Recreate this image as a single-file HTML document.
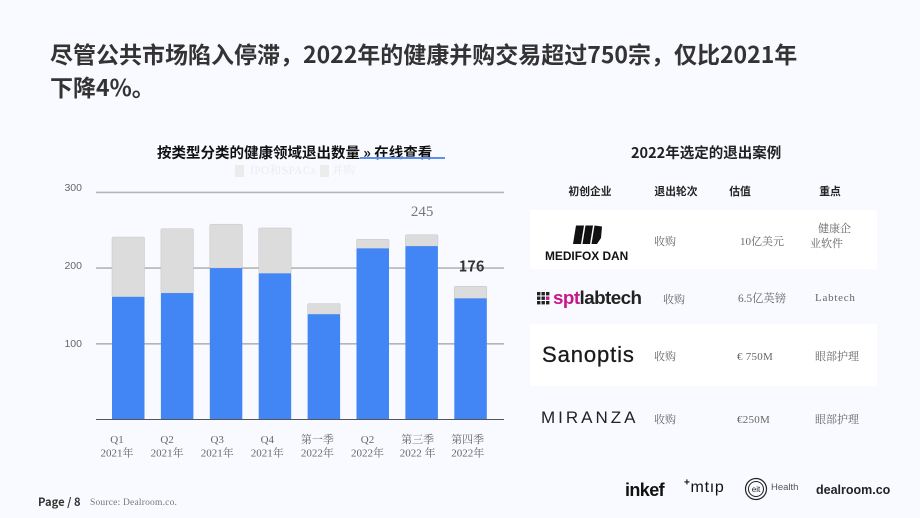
<!DOCTYPE html>
<html lang="zh">
<head>
<meta charset="utf-8">
<title>健康并购</title>
<style>
html,body{margin:0;padding:0;}
body{width:920px;height:518px;background:#f9faff;position:relative;overflow:hidden;font-family:"Noto Sans CJK SC",sans-serif;}
.t{position:absolute;white-space:nowrap;}
.serif{font-family:"Liberation Serif","Noto Serif CJK SC",serif;font-size:11px;color:#666;}
.hd{font-family:"Noto Sans CJK SC",sans-serif;font-weight:700;font-size:10.8px;color:#222;transform:translateX(-50%);}
.row{position:absolute;left:530px;width:347px;background:#fff;}
svg{position:absolute;left:0;top:0;}
</style>
</head>
<body>
<div class="t" style="left:50px;top:37px;font-size:23px;font-weight:700;color:#333;line-height:33px;">尽管公共市场陷入停滞，2022年的健康并购交易超过750宗，仅比2021年<br>下降4%。</div>

<div class="t" style="left:157px;top:143px;font-size:14.5px;font-weight:700;color:#111;line-height:20px;">按类型分类的健康领域退出数量 » 在线查看</div>
<div class="t" style="left:360px;top:157px;width:85px;height:1.5px;background:#5b8ff0;"></div>

<svg id="chart" width="920" height="518" xmlns="http://www.w3.org/2000/svg"></svg>

<div class="t" style="left:235px;top:165px;width:9px;height:12px;background:#ececec;"></div>
<div class="t" style="left:250px;top:164px;font-family:'Liberation Serif','Noto Serif CJK SC',serif;font-size:11.5px;letter-spacing:.4px;line-height:14px;color:#ebebeb;">IPO和SPACs</div>
<div class="t" style="left:320px;top:165px;width:9px;height:12px;background:#ececec;"></div>
<div class="t" style="left:332px;top:164px;font-family:'Liberation Serif','Noto Serif CJK SC',serif;font-size:11.5px;line-height:14px;color:#ebebeb;">并购</div>

<div class="t" style="left:631px;top:143px;font-size:14.5px;font-weight:700;color:#222;line-height:20px;">2022年选定的退出案例</div>
<div class="t hd" style="left:590px;top:183px;">初创企业</div>
<div class="t hd" style="left:676px;top:183px;">退出轮次</div>
<div class="t hd" style="left:740px;top:183px;">估值</div>
<div class="t hd" style="left:830px;top:183px;">重点</div>

<div class="row" style="top:210px;height:59px;"></div>
<div class="row" style="top:324px;height:62px;"></div>

<!-- Medifox logo -->
<svg width="920" height="518" xmlns="http://www.w3.org/2000/svg">
  <polygon points="576,225.5 584,225.5 581,244 573,244" fill="#111"/>
  <polygon points="585.5,225.5 593,225.5 590,244 582.5,244" fill="#111"/>
  <polygon points="594.5,225.5 602,226.5 601,238 597,244 591.5,244" fill="#111"/>
</svg>
<div class="t" style="left:545px;top:249px;font-family:'Liberation Sans',sans-serif;font-weight:700;font-size:11.9px;line-height:14px;color:#111;">MEDIFOX DAN</div>
<div class="t serif" style="left:654px;top:233px;">收购</div>
<div class="t serif" style="left:740px;top:233px;">10亿美元</div>
<div class="t serif" style="left:818px;top:220px;">健康企</div>
<div class="t serif" style="left:810px;top:235px;">业软件</div>

<!-- SPT logo -->
<svg width="920" height="518" xmlns="http://www.w3.org/2000/svg">
  <g fill="#222">
    <rect x="537" y="292" width="3.4" height="3.4"/><rect x="541.5" y="292" width="3.4" height="3.4"/><rect x="546" y="292" width="3.4" height="3.4"/>
    <rect x="537" y="296.5" width="3.4" height="3.4"/><rect x="541.5" y="296.5" width="3.4" height="3.4"/><rect x="546" y="296.5" width="3.4" height="3.4" fill="#c8178b"/>
    <rect x="537" y="301" width="3.4" height="3.4"/><rect x="541.5" y="301" width="3.4" height="3.4"/><rect x="546" y="301" width="3.4" height="3.4"/>
  </g>
</svg>
<div class="t" style="left:553px;top:288px;font-family:'Liberation Sans',sans-serif;font-weight:700;font-size:18.8px;letter-spacing:-0.55px;line-height:20px;color:#222;"><span style="color:#c8178b">spt</span>labtech</div>
<div class="t serif" style="left:663px;top:291px;">收购</div>
<div class="t serif" style="left:738px;top:290px;font-size:11.3px;">6.5亿英镑</div>
<div class="t serif" style="left:815px;top:292px;letter-spacing:.75px;">Labtech</div>

<!-- Sanoptis -->
<div class="t" style="left:542px;top:342px;font-family:'Liberation Sans',sans-serif;font-size:22px;letter-spacing:.9px;line-height:26px;color:#1a1a1a;-webkit-text-stroke:.3px #1a1a1a;">Sanoptis</div>
<div class="t serif" style="left:654px;top:348px;">收购</div>
<div class="t serif" style="left:737px;top:351px;letter-spacing:.25px;">€ 750M</div>
<div class="t serif" style="left:815px;top:348px;">眼部护理</div>

<!-- Miranza -->
<div class="t" style="left:541px;top:408px;font-family:'Liberation Sans',sans-serif;font-size:17px;letter-spacing:3px;line-height:20px;color:#222;">MIRANZA</div>
<div class="t serif" style="left:654px;top:411px;">收购</div>
<div class="t serif" style="left:737px;top:414px;letter-spacing:.25px;">€250M</div>
<div class="t serif" style="left:815px;top:411px;">眼部护理</div>

<!-- footer -->
<div class="t" style="left:38px;top:494px;font-size:11.2px;font-weight:700;line-height:16px;color:#333;">Page / 8</div>
<div class="t" style="left:90px;top:497px;font-family:'Liberation Serif',serif;font-size:9.5px;line-height:12px;color:#777;letter-spacing:.2px;">Source: Dealroom.co.</div>

<div class="t" style="left:625px;top:480px;font-family:'Liberation Sans',sans-serif;font-weight:700;font-size:18px;letter-spacing:-.6px;line-height:20px;color:#111;">inkef</div>
<div class="t" style="left:684px;top:478px;font-family:'Liberation Sans',sans-serif;font-size:16px;letter-spacing:.7px;line-height:20px;color:#111;"><sup style="font-size:10px;font-weight:700;line-height:0;">+</sup>mtıp</div>
<svg width="920" height="518" xmlns="http://www.w3.org/2000/svg">
  <circle cx="756" cy="489" r="10.5" fill="none" stroke="#222" stroke-width="1.2"/>
  <circle cx="756" cy="489" r="7.5" fill="none" stroke="#222" stroke-width="1"/>
  <text x="756" y="492" font-family="Liberation Sans, sans-serif" font-size="8" text-anchor="middle" fill="#222">eit</text>
</svg>
<div class="t" style="left:771px;top:483px;font-family:'Liberation Sans',sans-serif;font-size:9.5px;line-height:10px;color:#555;">Health</div>
<div class="t" style="left:816px;top:481px;font-family:'Liberation Sans',sans-serif;font-weight:700;font-size:12.5px;line-height:18px;color:#222;">dealroom.co</div>

<script>
var categoriesTop = ['Q1','Q2','Q3','Q4','第一季','Q2','第三季','第四季'];
var categoriesBottom = ['2021年','2021年','2021年','2021年','2022年','2022年','2022 年','2022年'];
var maValues = [162,167,200,193,139,226,229,160];
var ipoValues = [79,85,58,60,14,12,15,16];
var yTicks = [100,200,300];
var totalLabels = [{index:6,text:'245',bold:false},{index:7,text:'176',bold:true}];

var NS = 'http://www.w3.org/2000/svg';
var svg = document.getElementById('chart');
function yScale(v){ return 419.5 - v * 0.757; }
function yTickLabel(v){ return 191 + (300 - v) * 0.78; }
function xBar(i){ return 112 + i * 48.9; }
function xLabel(i){ return 117 + i * 50.1; }
var BAR_W = 32.5;

function add(tag, attrs, text){
  var el = document.createElementNS(NS, tag);
  for (var k in attrs) el.setAttribute(k, attrs[k]);
  if (text !== undefined) el.textContent = text;
  svg.appendChild(el);
  return el;
}

yTicks.forEach(function(t){
  var line = add('line', {x1:96, x2:504, y1:yScale(t), y2:yScale(t), stroke:'#b5b5b5', 'stroke-width':1.6});
  
  
  var lab = add('text', {x:82, y:yTickLabel(t), 'text-anchor':'end', 'font-family':'Liberation Sans, sans-serif', 'font-size':10.5, fill:'#666'}, String(t));
  
  
});

categoriesTop.forEach(function(c, i){
  var ma = maValues[i], ipo = ipoValues[i];
  var g = add('rect', {x:xBar(i), y:yScale(ma+ipo), width:BAR_W, height:yScale(ma)-yScale(ma+ipo), fill:'#dcdcdc', stroke:'#c4c4c4', 'stroke-width':0.5, rx:1});
  
  
  var b = add('rect', {x:xBar(i), y:yScale(ma), width:BAR_W, height:yScale(0)-yScale(ma), fill:'#4285f4'});
  
  
  var l1 = add('text', {x:xLabel(i), y:443, 'text-anchor':'middle', 'font-family':'Liberation Serif, Noto Serif CJK SC, serif', 'font-size':11, fill:'#666'}, c);
  
  
  var l2 = add('text', {x:xLabel(i), y:456.5, 'text-anchor':'middle', 'font-family':'Liberation Serif, Noto Serif CJK SC, serif', 'font-size':11, fill:'#666'}, categoriesBottom[i]);
  
  
});

var axis = add('line', {x1:96, x2:504, y1:yScale(0), y2:yScale(0), stroke:'#555', 'stroke-width':1.1});



totalLabels.forEach(function(d){
  var total = maValues[d.index] + ipoValues[d.index];
  var t = add('text', {
    x:xBar(d.index)+BAR_W/2 + (d.bold ? 1 : 0.5),
    y:yScale(total)-(d.bold ? 15 : 19),
    'text-anchor':'middle',
    'font-family': d.bold ? 'Noto Sans CJK SC, sans-serif' : 'Liberation Serif, serif',
    'font-size': d.bold ? 14.5 : 15,
    'font-weight': d.bold ? 700 : 400,
    fill: d.bold ? '#333' : '#777'
  }, d.text);
  
  
});
</script>
</body>
</html>
